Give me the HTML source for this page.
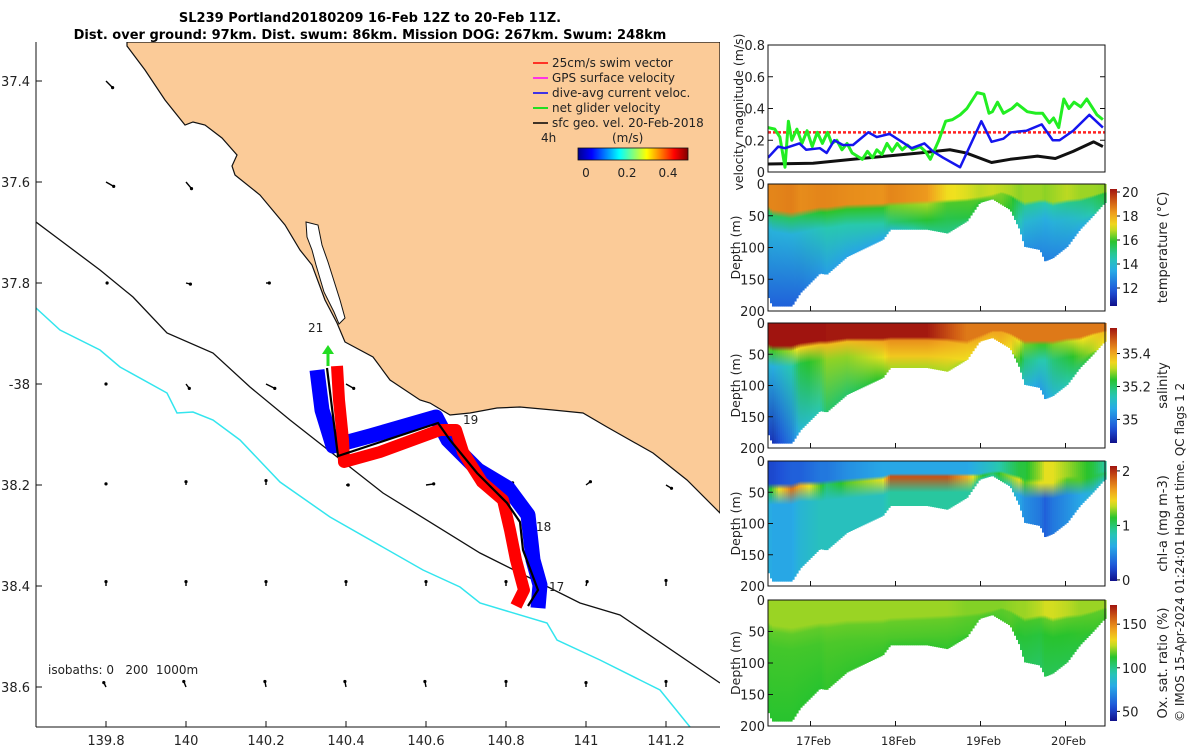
<!DOCTYPE html>
<html><head><meta charset="utf-8">
<style>
html,body{margin:0;padding:0;background:#fff;}
svg{display:block;font-family:"DejaVu Sans","Liberation Sans",sans-serif;}
.t{font-size:12px;fill:#222;}
</style></head>
<body>
<svg id="fig" width="1200" height="750" viewBox="0 0 1200 750" xmlns="http://www.w3.org/2000/svg">
<defs>
  <clipPath id="mapclip"><rect x="36" y="42" width="684" height="685"/></clipPath>
  <clipPath id="velclip"><rect x="768" y="45" width="337" height="127"/></clipPath>
  <linearGradient id="cbmap" x1="0" x2="1" y1="0" y2="0">
    <stop offset="0" stop-color="#00008f"/><stop offset="0.125" stop-color="#0000ff"/><stop offset="0.375" stop-color="#00ffff"/><stop offset="0.625" stop-color="#ffff00"/><stop offset="0.875" stop-color="#ff0000"/><stop offset="1" stop-color="#800000"/>
  </linearGradient>
</defs>

<g>
<text x="370" y="22" text-anchor="middle" font-weight="bold" font-size="13">SL239 Portland20180209 16-Feb 12Z to 20-Feb 11Z.</text>
<text x="370" y="39" text-anchor="middle" font-weight="bold" font-size="13">Dist. over ground: 97km. Dist. swum: 86km. Mission DOG: 267km. Swum: 248km</text>
</g>

<g id="map">
 <g clip-path="url(#mapclip)">
  <rect x="36" y="42" width="684" height="685" fill="#fff"/>
  <g id="arrows"></g>
  <path fill="#fbcb98" stroke="#111" stroke-width="1.2"
   d="M127,42 L127,46 L145,70 L165,100 L185,125 L193,122 L205,125 L222,138 L237,155 L232,166 L235,175 L260,195 L285,225 L300,250 L312,265 L325,300 L337,323 L345,342 L373,357 L390,380 L420,400 L430,403 L450,415 L470,413 L497,408 L520,407 L553,410 L583,413 L607,427 L653,453 L687,480 L720,513 L720,42 Z"/>
  <path fill="#fff" stroke="#111" stroke-width="1"
   d="M306,222 L318,225 L322,245 L328,262 L340,300 L345,318 L339,324 L334,312 L324,292 L316,265 L312,250 L307,237 Z"/>
  <polyline fill="none" stroke="#111" stroke-width="1.3" points="36,222 60,240 100,270 133,297 167,333 213,353 250,387 290,420 383,493 480,553 580,603 620,615 720,683"/>
  <polyline fill="none" stroke="#33e5ee" stroke-width="1.5" points="36,308 60,330 100,350 120,367 167,393 177,413 193,412 213,420 240,440 280,482 330,517 423,570 460,587 480,603 547,623 557,640 600,660 640,680 660,690 690,727"/>
  <polyline fill="none" stroke="#0000ff" stroke-width="15" stroke-linejoin="round" points="317,370 322,410 333,446 370,436 436,417 448,440 478,470 508,488 528,515 533,560 540,585 538,608"/>
  <polyline fill="none" stroke="#ff0000" stroke-width="12" stroke-linejoin="round" points="337,366 339,400 343,440 344,462 380,452 440,430 456,430 463,452 482,482 503,500 510,530 516,560 524,590 516,606"/>
  <polyline fill="none" stroke="#000" stroke-width="2.2" points="327,368 338,456 438,423 450,440 477,473 507,503 520,522 523,550 538,590 528,606"/>
  <line x1="328" y1="366" x2="328" y2="352" stroke="#22dd22" stroke-width="3"/>
  <polygon points="322,354 334,354 328,345" fill="#22dd22"/>
  <text x="308" y="332" class="t" font-size="13">21</text>
  <text x="463" y="424" class="t" font-size="13">19</text>
  <text x="536" y="531" class="t" font-size="13">18</text>
  <text x="549" y="591" class="t" font-size="13">17</text>
  <text x="48" y="674" class="t" font-size="13" xml:space="preserve" style="white-space:pre">isobaths: 0   200  1000m</text>
 </g>
 <line x1="36" y1="42" x2="36" y2="727" stroke="#111"/>
 <line x1="36" y1="727" x2="720" y2="727" stroke="#111"/>
 <g id="mapticks"></g>
 <g>
  <line x1="533" y1="63" x2="548" y2="63" stroke="#f00" stroke-width="1.5"/><text x="552" y="67" class="t" font-size="11.5">25cm/s swim vector</text>
  <line x1="533" y1="78" x2="548" y2="78" stroke="#f0f" stroke-width="1.5"/><text x="552" y="82" class="t" font-size="11.5">GPS surface velocity</text>
  <line x1="533" y1="93" x2="548" y2="93" stroke="#00f" stroke-width="1.5"/><text x="552" y="97" class="t" font-size="11.5">dive-avg current veloc.</text>
  <line x1="533" y1="108" x2="548" y2="108" stroke="#2d2" stroke-width="2"/><text x="552" y="112" class="t" font-size="11.5">net glider velocity</text>
  <line x1="533" y1="123" x2="548" y2="123" stroke="#000" stroke-width="1.5"/><text x="552" y="127" class="t" font-size="11.5">sfc geo. vel. 20-Feb-2018</text>
  <text x="541" y="142" class="t" font-size="11.5">4h</text>
  <text x="612" y="142" class="t" font-size="13">(m/s)</text>
  <rect x="578" y="148" width="110" height="12" fill="url(#cbmap)" stroke="#111" stroke-width="0.8"/>
  <text x="586" y="177" class="t" font-size="12.5" text-anchor="middle">0</text>
  <text x="627" y="177" class="t" font-size="12.5" text-anchor="middle">0.2</text>
  <text x="668" y="177" class="t" font-size="12.5" text-anchor="middle">0.4</text>
 </g>
</g>

<g id="vel"></g>
<g id="sections"></g>

<text transform="translate(1184,722) rotate(-90)" class="t" font-size="12">© IMOS 15-Apr-2024 01:24:01 Hobart time. QC flags 1  2</text>
</svg>

<script>
// ===== velocity chart data =====
const velTimesGreen = [16.5,16.58,16.64,16.7,16.74,16.78,16.84,16.9,16.96,17.02,17.08,17.14,17.2,17.25,17.31,17.37,17.43,17.49,17.55,17.61,17.67,17.73,17.78,17.84,17.9,17.96,18.02,18.08,18.14,18.2,18.29,18.35,18.41,18.51,18.59,18.67,18.76,18.84,18.96,19.04,19.1,19.14,19.2,19.27,19.37,19.43,19.55,19.65,19.73,19.81,19.86,19.92,19.98,20.04,20.1,20.18,20.25,20.37,20.44];
const velGreen = [0.28,0.27,0.22,0.03,0.32,0.2,0.27,0.18,0.26,0.16,0.25,0.18,0.25,0.18,0.2,0.14,0.18,0.12,0.1,0.08,0.13,0.09,0.14,0.11,0.18,0.13,0.18,0.14,0.17,0.14,0.16,0.13,0.08,0.2,0.32,0.33,0.36,0.4,0.5,0.49,0.37,0.38,0.44,0.37,0.4,0.43,0.38,0.37,0.37,0.31,0.34,0.28,0.46,0.4,0.44,0.41,0.46,0.36,0.33];
const velTimesBlue = [16.5,16.62,16.7,16.87,16.95,17.11,17.19,17.28,17.38,17.5,17.68,17.78,17.93,18.19,18.34,18.44,18.56,18.76,19.01,19.13,19.27,19.36,19.54,19.72,19.85,19.93,20.09,20.28,20.44];
const velBlue = [0.09,0.16,0.15,0.18,0.14,0.15,0.12,0.2,0.17,0.17,0.25,0.22,0.24,0.15,0.18,0.13,0.09,0.03,0.32,0.19,0.21,0.25,0.26,0.3,0.2,0.2,0.26,0.36,0.28];
const velTimesBlack = [16.5,17.03,17.5,17.89,18.28,18.64,18.83,19.13,19.35,19.67,19.88,20.09,20.33,20.44];
const velBlack = [0.05,0.055,0.08,0.1,0.12,0.14,0.12,0.06,0.08,0.1,0.085,0.13,0.19,0.16];
const swimRef = 0.25;
const velTicks = [0,0.2,0.4,0.6,0.8];
const dayTicks = [17,18,19,20];
const dayLabels = ['17Feb','18Feb','19Feb','20Feb'];

// ===== section data =====
const secTimes = [16.49,16.55,16.78,16.88,17.11,17.19,17.43,17.85,17.94,18.37,18.61,18.84,18.99,19.14,19.25,19.35,19.46,19.52,19.70,19.76,19.85,20.02,20.17,20.32,20.46];
const secBottom = [172,193,193,172,141,143,115,88,72,72,78,59,30,24,33,41,72,99,104,122,117,99,72,51,30];
const tempSurf = [18.6,18.6,18.7,18.5,18.6,18.6,18.5,18.4,18.6,18.3,17.2,17.0,16.8,16.9,16.8,16.7,16.5,16.6,16.6,16.5,16.6,16.8,16.6,16.6,16.5];
const tempMld = [40,50,55,52,45,45,40,38,35,32,30,28,25,20,15,20,30,35,30,30,35,30,28,22,15];
const tempDeep = [12.3,12.0,12.0,12.3,13.0,13.2,13.3,13.4,14.0,15.0,15.0,15.2,15.5,16,16,15.5,14,13,12.8,12.6,12.7,13,13.4,14,15];
const salSurf = [35.6,35.6,35.6,35.6,35.6,35.55,35.55,35.55,35.55,35.55,35.5,35.45,35.45,35.45,35.45,35.45,35.45,35.45,35.45,35.45,35.45,35.45,35.45,35.45,35.45];
const salMld = [40,45,45,40,35,35,30,30,28,28,30,35,25,15,15,20,30,35,35,35,35,30,28,20,15];
const salDeep = [34.95,34.9,35.0,35.1,35.15,35.2,35.2,35.25,35.3,35.3,35.3,35.3,35.35,35.35,35.35,35.3,35.2,35.1,35.05,35.05,35.1,35.15,35.2,35.25,35.3];
const chlSurf = [0.2,0.2,0.3,0.3,0.4,0.4,0.5,0.6,0.6,0.6,0.6,0.6,0.7,0.8,0.9,1.0,1.1,1.1,1.3,1.4,1.4,1.3,1.2,1.1,0.9];
const chlMid = [1.0,1.2,1.8,1.6,1.2,1.0,1.2,1.4,1.9,1.9,1.9,1.6,1.2,1.0,1.2,1.3,1.4,1.2,1.4,1.4,1.4,1.2,1.2,1.1,1.0];
const chlMld = [45,45,45,40,40,38,35,30,25,25,25,25,25,20,20,25,30,35,35,35,35,30,30,25,20];
const chlDeep = [0.7,0.6,0.6,0.7,0.8,0.8,0.8,0.8,0.9,0.9,0.9,0.9,0.9,0.9,1.0,0.8,0.6,0.5,0.4,0.3,0.4,0.5,0.6,0.7,0.8];
const oxSurf = [122,122,122,122,122,122,122,122,122,122,122,120,120,120,120,121,122,122,125,127,127,125,122,122,122];
const oxDeep = [112,112,112,112,112,113,113,113,113,113,113,113,113,113,113,113,108,107,105,107,107,108,110,111,112];
const depthTicks = [0,50,100,150,200];

// ===== map data =====
const mapLonTicks = [139.8,140,140.2,140.4,140.6,140.8,141,141.2];
const mapLatTicks = [-37.4,-37.6,-37.8,-38,-38.2,-38.4,-38.6];
const mapLatLabels = ['37.4','37.6','37.8','-38','38.2','38.4','38.6'];
const arrowU = [
 [0.06,0.06,0.06,0.06,0.06,0.06,0.06,0.06],
 [0.07,0.05,0.06,0.06,0.06,0.06,0.06,0.06],
 [0.01,0.04,0.03,0.03,0.05,0.05,0.05,0.05],
 [0.0,0.03,0.08,0.07,0.06,0.06,0.06,0.06],
 [0.0,0.0,0.0,0.02,0.07,0.06,0.04,0.05],
 [0.0,0.0,0.0,0.0,0.0,0.0,0.01,0.0],
 [-0.02,-0.02,-0.01,-0.01,-0.01,0.0,0.0,0.0]];
const arrowV = [
 [-0.06,-0.05,-0.05,-0.05,-0.05,-0.05,-0.05,-0.05],
 [-0.04,-0.06,-0.05,-0.05,-0.05,-0.05,-0.05,-0.05],
 [0.0,-0.01,0.0,0.0,-0.01,-0.01,-0.01,-0.01],
 [0.0,-0.04,-0.04,-0.04,-0.02,-0.02,-0.02,-0.02],
 [0.01,0.03,0.04,0.0,0.01,0.02,0.03,-0.03],
 [0.04,0.04,0.04,0.04,0.04,0.04,0.04,0.05],
 [0.04,0.05,0.05,0.05,0.05,0.05,0.04,0.05]];

const NS = 'http://www.w3.org/2000/svg';
function mk(tag, attrs, parent){const e=document.createElementNS(NS,tag);for(const k in attrs)e.setAttribute(k,attrs[k]);parent.appendChild(e);return e;}
function txt(parent,x,y,s,anchor,size){const e=mk('text',{x:x,y:y,'text-anchor':anchor||'start','font-size':size||12.5,fill:'#222'},parent);e.textContent=s;return e;}

const lonX = v => 106 + (v-139.8)/0.2*80;
const latY = v => 384 + (-38 - v)/0.2*101;
const mt = document.getElementById('mapticks');
mapLonTicks.forEach(v=>{const x=lonX(v);mk('line',{x1:x,y1:727,x2:x,y2:721,stroke:'#111'},mt);
 const l=txt(mt,x,745,String(v),'middle',13);
 
 });
mapLatTicks.forEach((v,i)=>{const y=latY(v);mk('line',{x1:36,y1:y,x2:42,y2:y,stroke:'#111'},mt);
 const l=txt(mt,30,y+5,mapLatLabels[i],'end',13);
 
 });
const ag=document.getElementById('arrows');
mapLatTicks.forEach((lat,r)=>mapLonTicks.forEach((lon,c)=>{
 const x=lonX(lon), y=latY(lat), u=arrowU[r][c]*110, v=-arrowV[r][c]*110;
 const a=mk('line',{x1:x,y1:y,x2:x+u,y2:y+v,stroke:'#000','stroke-width':1.4},ag);
 
 
 mk('circle',{cx:x+u,cy:y+v,r:1.6,fill:'#000'},ag);
}));

const vg=document.getElementById('vel');
const tX = t => 768 + (t-16.5)*85;
const vY = v => 172 - v/0.8*127;
mk('rect',{x:768,y:45,width:337,height:127,fill:'#fff'},vg);
const cl=mk('g',{'clip-path':'url(#velclip)'},vg);
function series(ts,vs,color,w,name){const p=mk('polyline',{points:ts.map((t,i)=>tX(t)+','+vY(vs[i])).join(' '),fill:'none',stroke:color,'stroke-width':w,'stroke-linejoin':'round'},cl);
 
 }
const ref=mk('line',{x1:768,x2:1105,y1:vY(swimRef),y2:vY(swimRef),stroke:'#f22','stroke-width':2.5,'stroke-dasharray':'3,2'},cl);


series(velTimesBlack,velBlack,'#111',3,'sfc-geo-velocity-line');
series(velTimesGreen,velGreen,'#22ee22',3,'net-glider-velocity-line');
series(velTimesBlue,velBlue,'#1515ee',2.5,'dive-avg-current-line');
mk('rect',{x:768,y:45,width:337,height:127,fill:'none',stroke:'#111'},vg);
velTicks.forEach(v=>{const y=vY(v);mk('line',{x1:768,x2:773,y1:y,y2:y,stroke:'#111'},vg);mk('line',{x1:1100,x2:1105,y1:y,y2:y,stroke:'#111'},vg);
 const l=txt(vg,765,y+5,String(v),'end',13);
 
 });
const vt=txt(vg,0,0,'velocity magnitude (m/s)','middle',12.5);
vt.setAttribute('transform','translate(743,112) rotate(-90)');



const cmapStops=[[0,[16,16,138]],[0.12,[30,80,215]],[0.3,[40,170,230]],[0.42,[40,200,175]],[0.55,[40,195,45]],[0.68,[240,225,30]],[0.79,[240,160,30]],[0.89,[210,95,20]],[1,[160,20,15]]];
function cmap(f){f=Math.max(0,Math.min(1,f));for(let i=1;i<cmapStops.length;i++){if(f<=cmapStops[i][0]){const a=cmapStops[i-1],b=cmapStops[i],k=(f-a[0])/(b[0]-a[0]);
 return 'rgb('+[0,1,2].map(j=>Math.round(a[1][j]+k*(b[1][j]-a[1][j]))).join(',')+')';}}return 'rgb(160,20,15)';}
function interp(ts,vs,t){if(t<=ts[0])return vs[0];for(let i=1;i<ts.length;i++){if(t<=ts[i]){const f=(t-ts[i-1])/(ts[i]-ts[i-1]);return vs[i-1]+f*(vs[i]-vs[i-1]);}}return vs[vs.length-1];}

const sg=document.getElementById('sections');
const defs=document.querySelector('defs');
const panels=[
 {top:184,bot:311,range:[10.5,20.25],surf:tempSurf,mid:null,mld:tempMld,deep:tempDeep,ticks:[12,14,16,18,20],title:'temperature (°C)',name:'temperature'},
 {top:323,bot:448,range:[34.857,35.555],surf:salSurf,mid:null,mld:salMld,deep:salDeep,ticks:[35,35.2,35.4],title:'salinity',name:'salinity'},
 {top:461,bot:586,range:[-0.02,2.09],surf:chlSurf,mid:chlMid,mld:chlMld,deep:chlDeep,ticks:[0,1,2],title:'chl-a (mg m-3)',name:'chlorophyll'},
 {top:600,bot:726,range:[39,172],surf:oxSurf,mid:null,mld:tempMld,deep:oxDeep,ticks:[50,100,150],title:'Ox. sat. ratio (%)',name:'oxygen'}];
let gid=0;
panels.forEach((p,pi)=>{
 const g=mk('g',{},sg);
 
 
 const dY=d=>p.top+d/200*(p.bot-p.top);
 const nf=v=>(v-p.range[0])/(p.range[1]-p.range[0]);
 const step=2;
 for(let x=768;x<1105;x+=step){
  const t=16.5+(x+step/2-768)/85;
  if(t<secTimes[0]-0.02) continue;
  const b=interp(secTimes,secBottom,t), m=interp(secTimes,p.mld,t);
  const s=interp(secTimes,p.surf,t), d=interp(secTimes,p.deep,t);
  const mid=p.mid?interp(secTimes,p.mid,t):(s+d)/2;
  const id='sg'+(gid++);
  const lg=mk('linearGradient',{id:id,gradientUnits:'userSpaceOnUse',x1:0,x2:0,y1:dY(0),y2:dY(b)},defs);
  const o1=Math.min(0.95,m*0.8/b), o2=Math.min(0.97,m/b), o3=Math.min(0.99,(m+25)/b);
  mk('stop',{offset:0,'stop-color':cmap(nf(s))},lg);
  mk('stop',{offset:o1,'stop-color':cmap(nf(s))},lg);
  mk('stop',{offset:o2,'stop-color':cmap(nf(mid))},lg);
  mk('stop',{offset:o3,'stop-color':cmap(nf(p.mid?d:(mid+d)/2))},lg);
  mk('stop',{offset:1,'stop-color':cmap(nf(d))},lg);
  mk('rect',{x:x,y:dY(0),width:step+0.6,height:dY(b)-dY(0),fill:'url(#'+id+')'},g);
 }
 mk('rect',{x:768,y:p.top,width:337,height:p.bot-p.top,fill:'none',stroke:'#111'},g);
 depthTicks.forEach(d=>{const y=dY(d);mk('line',{x1:768,x2:773,y1:y,y2:y,stroke:'#111'},g);
  const l=txt(g,765,y+5,String(d),'end',13);
  
  });
 dayTicks.forEach(t=>{const x=tX(t);mk('line',{x1:x,x2:x,y1:p.bot,y2:p.bot-5,stroke:'#111'},g);});
 const yl=txt(g,0,0,'Depth (m)','middle',12.5);
 yl.setAttribute('transform','translate(740,'+((p.top+p.bot)/2)+') rotate(-90)');
 
 
 const cbTop=p.top+5, cbBot=p.bot-5;
 const cg=mk('linearGradient',{id:'cb'+pi,x1:0,x2:0,y1:1,y2:0},defs);
 for(let k=0;k<=20;k++)mk('stop',{offset:k/20,'stop-color':cmap(k/20)},cg);
 const cb=mk('rect',{x:1110,y:cbTop,width:7,height:cbBot-cbTop,fill:'url(#cb'+pi+')'},g);
 
 
 p.ticks.forEach(v=>{const y=cbBot-nf(v)*(cbBot-cbTop);mk('line',{x1:1117,x2:1120,y1:y,y2:y,stroke:'#111'},g);
  const l=txt(g,1122,y+5,String(v),'start',13);
  
  });
 const ct=txt(g,0,0,p.title,'middle',13);
 ct.setAttribute('transform','translate(1167,'+((p.top+p.bot)/2)+') rotate(-90)');
 
 
});
dayTicks.forEach((t,i)=>{const l=txt(sg,tX(t)+3,745,dayLabels[i],'middle',11.5);
 
 });
</script>
</body></html>
